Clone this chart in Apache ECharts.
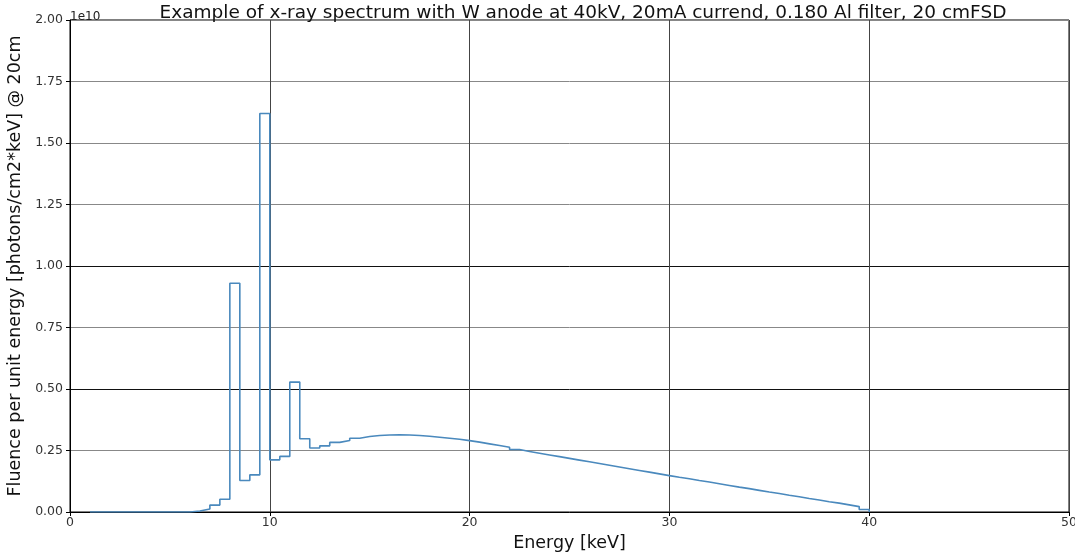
<!DOCTYPE html>
<html>
<head>
<meta charset="utf-8">
<script src="https://cdn.jsdelivr.net/npm/echarts@6/dist/echarts.min.js"></script>
<style>
  html, body { margin: 0; padding: 0; background: #fff; }
  #chart { width: 1075px; height: 554px; }
</style>
</head>
<body>
<div id="chart"></div>
<script>
// bin left edges in keV (0.5 keV bins from 1 to 40)
const energy = [
  1.0, 1.5, 2.0, 2.5, 3.0, 3.5, 4.0, 4.5, 5.0, 5.5,
  6.0, 6.5, 7.0, 7.5, 8.0, 8.5, 9.0, 9.5, 10.0, 10.5,
  11.0, 11.5, 12.0, 12.5, 13.0, 13.5, 14.0, 14.5, 15.0, 15.5,
  16.0, 16.5, 17.0, 17.5, 18.0, 18.5, 19.0, 19.5, 20.0, 20.5,
  21.0, 21.5, 22.0, 22.5, 23.0, 23.5, 24.0, 24.5, 25.0, 25.5,
  26.0, 26.5, 27.0, 27.5, 28.0, 28.5, 29.0, 29.5, 30.0, 30.5,
  31.0, 31.5, 32.0, 32.5, 33.0, 33.5, 34.0, 34.5, 35.0, 35.5,
  36.0, 36.5, 37.0, 37.5, 38.0, 38.5, 39.0, 39.5, 40.0
];
// fluence in units of 1e10 photons/cm2*keV
const fluence = [
  0, 0, 0, 0, 0, 0, 0, 0, 0, 0,
  0.004, 0.012, 0.028, 0.052, 0.93, 0.128, 0.151, 1.62, 0.212, 0.226,
  0.528, 0.298, 0.26, 0.269, 0.283, 0.291, 0.300, 0.307, 0.311, 0.313,
  0.314, 0.313, 0.311, 0.308, 0.304, 0.300, 0.296, 0.290, 0.284, 0.277,
  0.270, 0.263, 0.254, 0.246, 0.239, 0.232, 0.225, 0.218, 0.211, 0.204,
  0.197, 0.190, 0.183, 0.176, 0.169, 0.162, 0.155, 0.148, 0.141, 0.135,
  0.128, 0.122, 0.115, 0.108, 0.101, 0.095, 0.088, 0.081, 0.075, 0.068,
  0.062, 0.055, 0.049, 0.042, 0.036, 0.029, 0.022, 0.010, 0
];

const chart = echarts.init(document.getElementById('chart'));
const font = 'DejaVu Sans';

chart.setOption({
  animation: false,
  textStyle: { fontFamily: font },
  title: {
    text: 'Example of x-ray spectrum with W anode at 40kV, 20mA currend, 0.180 Al filter, 20 cmFSD',
    left: 578, top: -1, textAlign: 'center',
    textStyle: { fontSize: 18.5, fontWeight: 'normal', color: '#111', fontFamily: font }
  },
  graphic: [{
    type: 'text', left: 70, top: 11,
    style: { text: '1e10', fontSize: 12, fill: '#222', fontFamily: font }
  }],
  grid: {
    left: 70, right: 6, top: 20, bottom: 42,
    outerBoundsMode: 'none',
    show: true, borderColor: '#000', borderWidth: 1, backgroundColor: '#fff'
  },
  xAxis: {
    type: 'value', min: 0, max: 50, interval: 10,
    name: 'Energy [keV]', nameLocation: 'middle', nameGap: 22,
    nameTextStyle: { fontSize: 17.5, color: '#111', fontFamily: font },
    axisLine: { show: true, lineStyle: { color: '#000', width: 1 } },
    axisTick: { show: true, length: 4, lineStyle: { color: '#000' } },
    axisLabel: { fontSize: 12.5, color: '#333', margin: 4 },
    splitLine: { show: true, lineStyle: { color: '#444', width: 1 } }
  },
  yAxis: {
    type: 'value', min: 0, max: 2, interval: 0.25,
    name: 'Fluence per unit energy [photons/cm2*keV] @ 20cm',
    nameLocation: 'middle', nameGap: 38,
    nameTextStyle: { fontSize: 17.5, color: '#111', fontFamily: font },
    axisLine: { show: true, lineStyle: { color: '#000', width: 1 } },
    axisTick: { show: true, length: 4, lineStyle: { color: '#000' } },
    axisLabel: { fontSize: 12.5, color: '#333', margin: 7, formatter: v => v.toFixed(2) },
    splitLine: {
      show: true,
      lineStyle: { color: ['#888', '#888', '#111', '#888', '#111', '#888', '#888', '#888', '#888'], width: 1 }
    }
  },
  series: [{
    type: 'line',
    step: 'end',
    data: energy.map((e, i) => [e, fluence[i]]),
    showSymbol: false,
    lineStyle: { color: '#4a89bd', width: 1.6 },
    z: 3
  }]
});
</script>
</body>
</html>
